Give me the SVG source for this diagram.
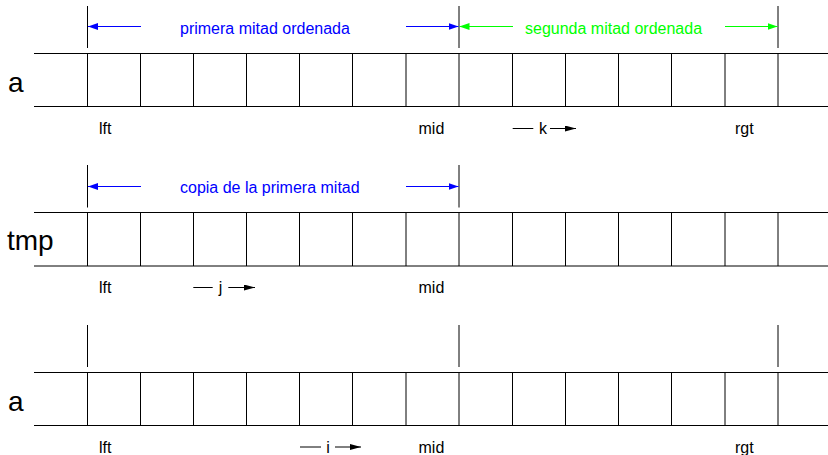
<svg xmlns="http://www.w3.org/2000/svg" width="828" height="455" viewBox="0 0 828 455">
<style>
  .grid { stroke: #000; stroke-width: 1; fill: none; }
  .mark { stroke: #000; stroke-width: 1; }
  .lab { font-family: "Liberation Sans", Arial, sans-serif; font-size: 16px; fill: #000; }
  .big { font-family: "Liberation Sans", Arial, sans-serif; font-size: 28px; fill: #000; }
  .blue { font-family: "Liberation Sans", Arial, sans-serif; font-size: 16px; fill: #0000ff; }
  .green { font-family: "Liberation Sans", Arial, sans-serif; font-size: 16px; fill: #00ff00; }
  .ab { stroke: #0000ff; stroke-width: 1; marker-end: url(#hb); }
  .ag { stroke: #00ff00; stroke-width: 1; marker-end: url(#hg); }
  .ak { stroke: #000; stroke-width: 1; marker-end: url(#hk); }
  .pl { stroke: #000; stroke-width: 1; }
</style>
<defs>
  <marker id="hb" viewBox="0 0 10 7" refX="10" refY="3.5" markerUnits="userSpaceOnUse" markerWidth="10" markerHeight="7" orient="auto">
    <path d="M0,0 L10,3.5 L0,7 z" fill="#0000ff"/>
  </marker>
  <marker id="hg" viewBox="0 0 10 7" refX="10" refY="3.5" markerUnits="userSpaceOnUse" markerWidth="10" markerHeight="7" orient="auto">
    <path d="M0,0 L10,3.5 L0,7 z" fill="#00ff00"/>
  </marker>
  <marker id="hk" viewBox="0 0 11 6" refX="11" refY="3" markerUnits="userSpaceOnUse" markerWidth="11" markerHeight="6" orient="auto">
    <path d="M0,0 L11,3 L0,6 z" fill="#000"/>
  </marker>
</defs>

<!-- Row 1: array a (sorted halves) -->
<g id="array-a1">
  <text class="big" x="8" y="91.5">a</text>
  <path class="grid" d="M34,53.5 H828 M34,106.5 H828
    M87.5,53.5 V106.5 M140.5,53.5 V106.5 M193.5,53.5 V106.5 M246.5,53.5 V106.5
    M299.5,53.5 V106.5 M352.5,53.5 V106.5 M406,53.5 V106.5 M459,53.5 V106.5
    M512.5,53.5 V106.5 M565.5,53.5 V106.5 M618.5,53.5 V106.5 M671.5,53.5 V106.5
    M725,53.5 V106.5 M778,53.5 V106.5"/>
  <path class="mark" d="M87.5,6 V48 M459,6 V48 M778,6 V48"/>
  <text class="blue" x="180" y="34.3">primera mitad ordenada</text>
  <text class="green" x="525" y="34.3">segunda mitad ordenada</text>
  <text class="lab" x="99" y="134">lft</text>
  <text class="lab" x="418.5" y="134">mid</text>
  <text class="lab" x="735" y="134">rgt</text>
  <text class="lab" x="543" y="134" text-anchor="middle">k</text>
</g>

<!-- Row 2: tmp -->
<g id="array-tmp">
  <text class="big" x="7" y="250">tmp</text>
  <path class="grid" d="M34,212.5 H828 M34,266 H828
    M87.5,212.5 V266 M140.5,212.5 V266 M193.5,212.5 V266 M246.5,212.5 V266
    M299.5,212.5 V266 M352.5,212.5 V266 M406,212.5 V266 M459,212.5 V266
    M512.5,212.5 V266 M565.5,212.5 V266 M618.5,212.5 V266 M671.5,212.5 V266
    M725,212.5 V266 M778,212.5 V266"/>
  <path class="mark" d="M87.5,165 V207.5 M459,165 V207.5"/>
  <text class="blue" x="180" y="192.8">copia de la primera mitad</text>
  <text class="lab" x="99" y="293">lft</text>
  <text class="lab" x="418.5" y="293">mid</text>
  <text class="lab" x="220.5" y="293" text-anchor="middle">j</text>
</g>

<!-- Row 3: array a (merge result) -->
<g id="array-a2">
  <text class="big" x="8" y="410.5">a</text>
  <path class="grid" d="M34,372.5 H828 M34,425.5 H828
    M87.5,372.5 V425.5 M140.5,372.5 V425.5 M193.5,372.5 V425.5 M246.5,372.5 V425.5
    M299.5,372.5 V425.5 M352.5,372.5 V425.5 M406,372.5 V425.5 M459,372.5 V425.5
    M512.5,372.5 V425.5 M565.5,372.5 V425.5 M618.5,372.5 V425.5 M671.5,372.5 V425.5
    M725,372.5 V425.5 M778,372.5 V425.5"/>
  <path class="mark" d="M87.5,325 V367 M459,325 V367 M778,325 V367"/>
  <text class="lab" x="99" y="453">lft</text>
  <text class="lab" x="418.5" y="453">mid</text>
  <text class="lab" x="735" y="453">rgt</text>
  <text class="lab" x="328" y="453" text-anchor="middle">i</text>
</g>

<!-- Connectors -->
<g id="connectors">
  <line class="ab" x1="141" y1="26.5" x2="88" y2="26.5"/>
  <line class="ab" x1="406" y1="26.5" x2="458.5" y2="26.5"/>
  <line class="ag" x1="513" y1="26.5" x2="459.5" y2="26.5"/>
  <line class="ag" x1="725" y1="26.5" x2="777.5" y2="26.5"/>

  <line class="ab" x1="141" y1="186.5" x2="88" y2="186.5"/>
  <line class="ab" x1="406" y1="186.5" x2="458.5" y2="186.5"/>

  <line class="pl" x1="512.7" y1="128.5" x2="533.3" y2="128.5"/>
  <line class="ak" x1="550" y1="128.5" x2="576" y2="128.5"/>

  <line class="pl" x1="193.3" y1="287.5" x2="212.7" y2="287.5"/>
  <line class="ak" x1="228.3" y1="287.5" x2="255" y2="287.5"/>

  <line class="pl" x1="300" y1="447" x2="321" y2="447"/>
  <line class="ak" x1="335" y1="447" x2="361" y2="447"/>
</g>
</svg>
